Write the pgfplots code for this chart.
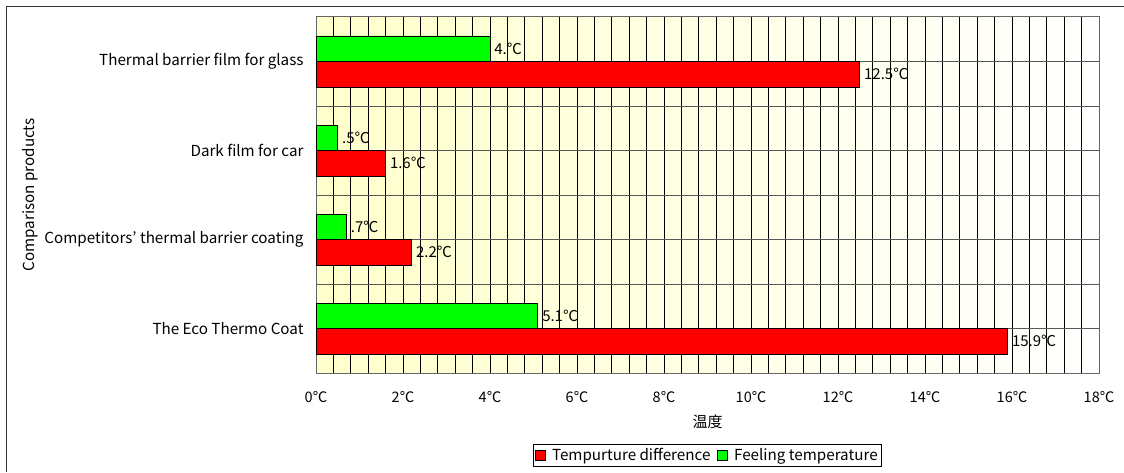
\documentclass[border=0pt]{standalone}
\usepackage{fontspec}
\setmainfont{Noto Sans CJK JP}
\usepackage{pgfplots}
\usepackage{pgfplotstable}
\pgfplotsset{compat=1.18}
\definecolor{bgyel}{RGB}{255,255,204}
\pgfplotstableread{
y val lab
0 15.9 15.9℃
1 2.2 2.2℃
2 1.6 1.6℃
3 12.5 12.5℃
}\reddata
\pgfplotstableread{
y val lab
0 5.1 5.1℃
1 0.7 .7℃
2 0.5 .5℃
3 4.0 4.℃
}\greendata
\begin{document}
\begin{tikzpicture}
\path[use as bounding box] (0,0) rectangle (1124pt,472pt);
\draw[line width=1pt, black!80] (6pt,0pt) -- (6pt,465pt) -- (1124pt,465pt);
\begin{axis}[
  at={(316pt,99pt)}, anchor=south west,
  width=783pt, height=356pt, scale only axis,
  xbar, bar width=25.5pt,
  xmin=0, xmax=18,
  ymin=-0.5, ymax=3.5,
  xtick={0,2,...,18},
  xticklabels={0℃,2℃,4℃,6℃,8℃,10℃,12℃,14℃,16℃,18℃},
  minor x tick num=4,
  ytick={0,1,2,3},
  yticklabels={The Eco Thermo Coat,Competitors' thermal barrier coating,Dark film for car,Thermal barrier film for glass},
  minor ytick={0.5,1.5,2.5},
  grid=both,
  major x grid style={black, line width=0.8pt},
  minor x grid style={black, line width=0.8pt},
  major y grid style={black!65, line width=0.9pt},
  minor y grid style={black!65, line width=0.9pt},
  tick style={draw=none},
  axis line style={black!60, line width=1pt},
  axis background/.style={left color=bgyel, right color=white},
  xticklabel style={anchor=center, inner sep=0pt, yshift=-24pt, font=\fontsize{14.5}{16}\selectfont},
  yticklabel style={anchor=east, inner sep=0pt, xshift=-8pt, font=\fontsize{15.2}{17}\selectfont},
  xlabel={温度},
  xlabel style={at={(axis description cs:0.5,-0.1376)}, anchor=center, font=\fontsize{15}{17}\selectfont},
  ylabel={Comparison products},
  ylabel style={at={(axis description cs:-0.3653,0.5)}, anchor=center, rotate=0, font=\fontsize{15.2}{17}\selectfont},
  nodes near coords,
  point meta=explicit symbolic,
  nodes near coords style={anchor=west, inner sep=0pt, xshift=4pt, font=\fontsize{15}{17}\selectfont, text=black},
  legend style={at={(0.5,-0.1994)}, anchor=north, draw=black, line width=0.8pt, legend columns=-1,
    font=\fontsize{15.2}{17}\selectfont, inner sep=2pt,
    /tikz/every even column/.append style={column sep=5pt}},
  legend image code/.code={\draw[#1, line width=0.6pt] (0pt,-5pt) rectangle (10pt,5pt); \path (14pt,0pt);},
]
\addplot[fill=red, draw=black, line width=0.8pt, bar shift=-12.75pt] table[x=val, y=y, meta=lab] {\reddata};
\addlegendentry{Tempurture difference}
\addplot[fill=green, draw=black, line width=0.8pt, bar shift=12.75pt] table[x=val, y=y, meta=lab] {\greendata};
\addlegendentry{Feeling temperature}
\end{axis}
\end{tikzpicture}
\end{document}
